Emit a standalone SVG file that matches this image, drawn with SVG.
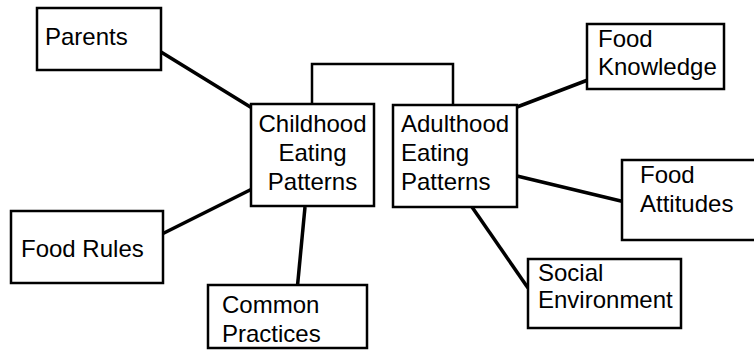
<svg xmlns="http://www.w3.org/2000/svg" width="754" height="350" viewBox="0 0 754 350">
<style>
.box{fill:#fff;stroke:#000;stroke-width:2.5}
.t{font-family:"Liberation Sans",Arial,sans-serif;font-size:24px;fill:#000}
.c{stroke:#000;stroke-width:3.5;fill:none}
.b{stroke:#000;stroke-width:2.5;fill:none}
</style>
<rect width="754" height="350" fill="#fff"/>
<g id="connectors">
<polyline class="b" points="312,104 312,64 453,64 453,105"/>
<line class="c" x1="161" y1="52" x2="252" y2="108"/>
<line class="c" x1="162" y1="234" x2="252" y2="189"/>
<line class="c" x1="305" y1="207" x2="297" y2="291"/>
<line class="c" x1="517" y1="107" x2="593" y2="78"/>
<line class="c" x1="517" y1="176" x2="625" y2="202"/>
<line class="c" x1="472" y1="207" x2="528" y2="288"/>
</g>
<g id="parents">
<rect class="box" x="37" y="8" width="124" height="62"/>
<text class="t" x="45" y="45">Parents</text>
</g>
<g id="childhood">
<rect class="box" x="251" y="104" width="123" height="102"/>
<text class="t" x="312.5" y="132" text-anchor="middle">Childhood</text>
<text class="t" x="312.5" y="161" text-anchor="middle">Eating</text>
<text class="t" x="312.5" y="190" text-anchor="middle">Patterns</text>
</g>
<g id="adulthood">
<rect class="box" x="393" y="105" width="124" height="102"/>
<text class="t" x="401" y="132">Adulthood</text>
<text class="t" x="401" y="161">Eating</text>
<text class="t" x="401" y="190">Patterns</text>
</g>
<g id="food-knowledge">
<rect class="box" x="587" y="24" width="137" height="65"/>
<text class="t" x="598" y="47">Food</text>
<text class="t" x="598" y="75">Knowledge</text>
</g>
<g id="food-attitudes">
<rect class="box" x="622" y="160" width="140" height="80"/>
<text class="t" x="640" y="183">Food</text>
<text class="t" x="640" y="212">Attitudes</text>
</g>
<g id="social-environment">
<rect class="box" x="528" y="259" width="153" height="69"/>
<text class="t" x="538" y="281">Social</text>
<text class="t" x="538" y="308">Environment</text>
</g>
<g id="food-rules">
<rect class="box" x="11" y="211" width="152" height="72"/>
<text class="t" x="21" y="257">Food Rules</text>
</g>
<g id="common-practices">
<rect class="box" x="208" y="285" width="159" height="63"/>
<text class="t" x="222" y="313">Common</text>
<text class="t" x="222" y="342">Practices</text>
</g>
</svg>
